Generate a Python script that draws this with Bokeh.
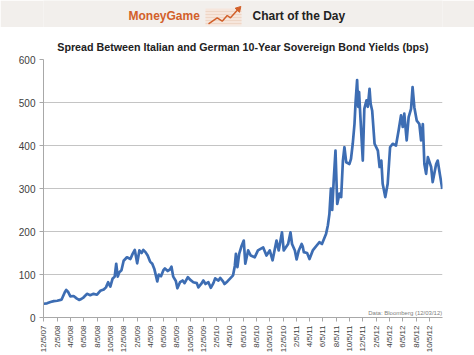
from datetime import datetime
from bokeh.plotting import figure
from bokeh.layouts import column
from bokeh.models import FixedTicker, Label, ColumnDataSource, Range1d
from bokeh.embed import file_html
from bokeh.resources import INLINE
from bokeh.core.properties import value
import math

TITLE = "Spread Between Italian and German 10-Year Sovereign Bond Yields (bps)"
SOURCE_NOTE = "Data: Bloomberg (12/03/12)"
BRAND = "MoneyGame"
BANNER_TEXT = "Chart of the Day"

dates = [
    "2007-12-05", "2007-12-20", "2008-01-05", "2008-01-20", "2008-02-05", "2008-02-20", "2008-02-25",
    "2008-03-10", "2008-03-17", "2008-03-25", "2008-04-05", "2008-04-20", "2008-05-05", "2008-05-15",
    "2008-05-25", "2008-06-05", "2008-06-20", "2008-07-05", "2008-07-20", "2008-08-05", "2008-08-20",
    "2008-09-05", "2008-09-15", "2008-09-25", "2008-10-05", "2008-10-15", "2008-10-25", "2008-11-01",
    "2008-11-08", "2008-11-15", "2008-11-25", "2008-12-05", "2008-12-20", "2009-01-05", "2009-01-15",
    "2009-01-25", "2009-02-05", "2009-02-15", "2009-02-25", "2009-03-05", "2009-03-15", "2009-03-25",
    "2009-04-05", "2009-04-15", "2009-04-25", "2009-05-08", "2009-05-15", "2009-05-25", "2009-06-05",
    "2009-06-12", "2009-06-25", "2009-07-05", "2009-07-12", "2009-07-20", "2009-08-01", "2009-08-08",
    "2009-08-20", "2009-09-01", "2009-09-10", "2009-09-25", "2009-10-05", "2009-10-20", "2009-11-05",
    "2009-11-12", "2009-11-25", "2009-12-05", "2009-12-15", "2009-12-28", "2010-01-08", "2010-01-20",
    "2010-01-28", "2010-02-12", "2010-02-20", "2010-03-05", "2010-03-12", "2010-03-25", "2010-04-05",
    "2010-04-20", "2010-04-28", "2010-05-03", "2010-05-10", "2010-05-18", "2010-05-28", "2010-06-08",
    "2010-06-15", "2010-06-28", "2010-07-10", "2010-07-28", "2010-08-12", "2010-09-05", "2010-09-20",
    "2010-10-05", "2010-10-18", "2010-11-05", "2010-11-15", "2010-11-30", "2010-12-08", "2010-12-28",
    "2011-01-08", "2011-01-15", "2011-01-28", "2011-02-05", "2011-02-15", "2011-02-28", "2011-03-05",
    "2011-03-10", "2011-03-25", "2011-04-05", "2011-04-20", "2011-05-20", "2011-06-01", "2011-06-20",
    "2011-06-28", "2011-07-05", "2011-07-12", "2011-07-18", "2011-07-25", "2011-08-02", "2011-08-10",
    "2011-08-20", "2011-08-28", "2011-09-05", "2011-09-12", "2011-09-20", "2011-10-05", "2011-10-12",
    "2011-10-20", "2011-10-28", "2011-11-02", "2011-11-09", "2011-11-14", "2011-11-18", "2011-11-25",
    "2011-12-05", "2011-12-12", "2011-12-22", "2011-12-28", "2012-01-05", "2012-01-10", "2012-01-17",
    "2012-01-28", "2012-02-12", "2012-02-20", "2012-02-28", "2012-03-05", "2012-03-17", "2012-03-28",
    "2012-04-08", "2012-04-20", "2012-05-05", "2012-05-17", "2012-05-28", "2012-06-05", "2012-06-12",
    "2012-06-23", "2012-07-02", "2012-07-13", "2012-07-20", "2012-07-28", "2012-08-08", "2012-08-20",
    "2012-08-28", "2012-09-05", "2012-09-12", "2012-09-20", "2012-09-28", "2012-10-13", "2012-10-20",
    "2012-11-05", "2012-11-12", "2012-11-23", "2012-12-03",
]
spread_bps = [
    32, 33, 36, 38, 39, 41, 42,
    58, 64, 60, 49, 50, 44, 41,
    43, 47, 55, 52, 55, 53, 62,
    65, 70, 82, 72, 90, 95, 125,
    95, 105, 110, 132, 140, 136, 148,
    157, 126, 156, 150, 157, 152, 144,
    130, 125, 112, 84, 100, 96, 110,
    114, 108, 112, 118, 95, 85, 68,
    82, 86, 80, 94, 88, 82, 80,
    70, 78, 86, 78, 82, 69, 80,
    91, 86, 92, 84, 78, 84, 90,
    98, 120, 148, 117, 148, 165, 179,
    125, 156, 144, 140, 156, 163, 144,
    156, 133, 179, 156, 198, 156, 171,
    198, 171, 156, 135, 156, 171, 165,
    152, 150, 136, 156, 175, 171, 195,
    214, 240, 300, 250, 320, 388, 264,
    288, 280, 365, 396, 361, 357, 369,
    404, 450, 501, 552, 490, 524, 458,
    365, 485, 505, 490, 532, 497, 481,
    404, 388, 350, 365, 311, 280, 311,
    396, 404, 400, 435, 470, 443, 474,
    412, 466, 485, 536, 489, 458, 450,
    412, 450, 357, 334, 373, 350, 315,
    357, 365, 330, 299,
]

tick_labels = [
    "12/5/07", "2/5/08", "4/5/08", "6/5/08", "8/5/08", "10/5/08", "12/5/08",
    "2/5/09", "4/5/09", "6/5/09", "8/5/09", "10/5/09", "12/5/09",
    "2/5/10", "4/5/10", "6/5/10", "8/5/10", "10/5/10", "12/5/10",
    "2/5/11", "4/5/11", "6/5/11", "8/5/11", "10/5/11", "12/5/11",
    "2/5/12", "4/5/12", "6/5/12", "8/5/12", "10/5/12",
]
y_ticks = [0, 100, 200, 300, 400, 500, 600]

# icon zigzag (banner decoration)
icon_x = [208, 216.7, 221.7, 226.7, 230, 237]
icon_y = [3.7, 9.7, 6.3, 12, 9.7, 17.5]


def to_ms(d):
    return (d - datetime(1970, 1, 1)).total_seconds() * 1000.0


def label_to_dt(s):
    m, d, y = s.split("/")
    return datetime(2000 + int(y), int(m), int(d))


xs = [datetime.strptime(d, "%Y-%m-%d") for d in dates]
src = ColumnDataSource(data=dict(x=xs, y=spread_bps))

tick_ms = [to_ms(label_to_dt(s)) for s in tick_labels]
overrides = {t: s for t, s in zip(tick_ms, tick_labels)}

FONT = "Liberation Sans"
W = 474
BANNER_H = 27
MAIN_H = 328
LEFT = 43
RIGHT_BORDER = 32

# ---- banner (column aligns its frame with the chart frame) ----
banner = figure(width=W, height=BANNER_H, output_backend="svg", toolbar_location=None,
                x_range=Range1d(LEFT, W - RIGHT_BORDER), y_range=Range1d(0, BANNER_H),
                x_axis_location=None, y_axis_location=None,
                min_border_left=LEFT, min_border_right=RIGHT_BORDER,
                min_border_top=0, min_border_bottom=0,
                background_fill_color="#f2efec", border_fill_color="#f2efec")
banner.grid.visible = False
banner.outline_line_color = None
banner.quad(left=[205], right=[241], bottom=[2], top=[19], fill_color="#f6e6dc", line_color=None)
for yy in [4, 7, 10, 13, 16]:
    banner.line(x=[205, 241], y=[yy, yy], line_color="#eed6c6", line_width=1)
banner.line(x=icon_x, y=icon_y, line_color="#d2602a", line_width=1.5)
banner.scatter(x=[icon_x[-1] + 1], y=[icon_y[-1] + 1], marker="triangle", size=6, angle=-0.75,
               fill_color="#d2602a", line_color="#d2602a")
banner.text(x=[128], y=[12], text=[BRAND], text_font=value(FONT), text_font_style="bold",
            text_font_size="12px", text_color="#d2602a", text_baseline="middle", text_align="left")
banner.text(x=[252], y=[12], text=[BANNER_TEXT], text_font=value(FONT), text_font_style="bold",
            text_font_size="12px", text_color="#222222", text_baseline="middle", text_align="left")

# ---- main chart ----
p = figure(width=W, height=MAIN_H, output_backend="svg", toolbar_location=None,
           x_axis_type="datetime",
           x_range=Range1d(to_ms(datetime(2007, 12, 4)), to_ms(datetime(2012, 12, 4))),
           y_range=Range1d(0, 600),
           min_border_left=LEFT, min_border_right=RIGHT_BORDER, min_border_top=32, min_border_bottom=38,
           title=TITLE)
p.title.align = "center"
p.title.text_font = FONT
p.title.text_font_style = "bold"
p.title.text_font_size = "10.7px"
p.title.text_color = "#222222"
p.title.standoff = 14
p.outline_line_color = None
p.background_fill_color = "white"

p.xgrid.visible = False
p.ygrid.grid_line_color = "#c4c4c4"
p.ygrid.grid_line_width = 1

p.yaxis.ticker = FixedTicker(ticks=y_ticks)
p.yaxis.axis_line_color = "#a8a8a8"
p.yaxis.major_tick_line_color = "#a8a8a8"
p.yaxis.major_tick_out = 4
p.yaxis.major_tick_in = 0
p.yaxis.minor_tick_line_color = None
p.yaxis.major_label_text_font = FONT
p.yaxis.major_label_text_font_size = "10px"
p.yaxis.major_label_text_color = "#404040"
p.yaxis.major_label_standoff = 4

p.xaxis.ticker = FixedTicker(ticks=tick_ms)
p.xaxis.major_label_overrides = overrides
p.xaxis.major_label_orientation = math.pi / 2
p.xaxis.axis_line_color = "#a8a8a8"
p.xaxis.major_tick_line_color = "#a8a8a8"
p.xaxis.major_tick_out = 4
p.xaxis.major_tick_in = 0
p.xaxis.minor_tick_line_color = None
p.xaxis.major_label_text_font = FONT
p.xaxis.major_label_text_font_size = "8px"
p.xaxis.major_label_text_color = "#404040"
p.xaxis.major_label_standoff = 4

p.line(x="x", y="y", source=src, line_color="#3d6db3", line_width=2.7, line_join="round")

note = Label(x=to_ms(datetime(2012, 12, 3)), y=11, text=SOURCE_NOTE, text_font=FONT,
             text_font_size="6px", text_color="#808080", text_align="right", text_baseline="middle")
p.add_layout(note)

layout = column(banner, p, spacing=0)
open("out.html", "w").write(file_html(layout, INLINE))
